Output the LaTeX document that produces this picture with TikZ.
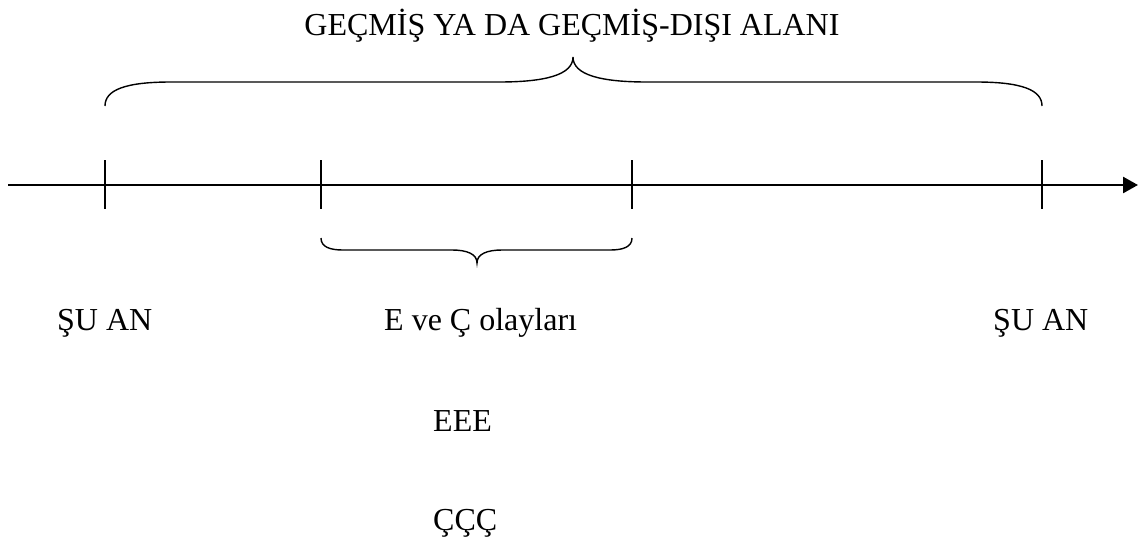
\documentclass[tikz,border=0pt]{standalone}
\usepackage{fontspec}
\setmainfont{Liberation Serif}
\usetikzlibrary{arrows.meta}
\begin{document}
\begin{tikzpicture}[x=1pt,y=-1pt,
  lbl/.style={inner sep=0pt,font=\fontsize{32}{38}\selectfont},
  axis/.style={line width=2.6pt,-{Triangle[length=15pt,width=16pt]}},
  tick/.style={line width=1.2pt},
  brace/.style={line width=1.4pt}]
\useasboundingbox (0,0) rectangle (1145,544);
% axis
\coordinate (s) at (8,185);
\coordinate (e) at (1138,185);
\draw[axis] (s) -- (e);
% ticks
\foreach \n/\x in {t1/105,t2/321,t3/632,t4/1042}{
  \coordinate (\n a) at (\x,160);
  \coordinate (\n b) at (\x,209);
  \draw[tick] (\n a) -- (\n b);
}
% top brace
\draw[brace] (105,106) .. controls (105,90) and (125,82) .. (171,82) -- (499,82)
  .. controls (545,82) and (573,75) .. (573,57)
  .. controls (573,75) and (601,82) .. (647,82) -- (976,82)
  .. controls (1022,82) and (1042,90) .. (1042,106);
% small brace
\draw[brace] (321,238) .. controls (321,247) and (330,250) .. (343,250) -- (452,250)
  .. controls (467,250) and (477,254) .. (477,263)
  .. controls (477,254) and (487,250) .. (502,250) -- (610,250)
  .. controls (623,250) and (632,247) .. (632,238);
% labels
\node[lbl,anchor=base] (title) at (572,35) {GEÇMİŞ YA DA GEÇMİŞ-DIŞI ALANI};
\node[lbl,anchor=base west] (su1) at (57,330) {ŞU AN};
\node[lbl,anchor=base west] (ev) at (384,330) {E ve Ç olayları};
\node[lbl,anchor=base west] (su2) at (993,330) {ŞU AN};
\node[lbl,anchor=base west] (eee) at (433,431) {EEE};
\node[lbl,anchor=base west] (ccc) at (433,530) {ÇÇÇ};
\end{tikzpicture}
\end{document}
